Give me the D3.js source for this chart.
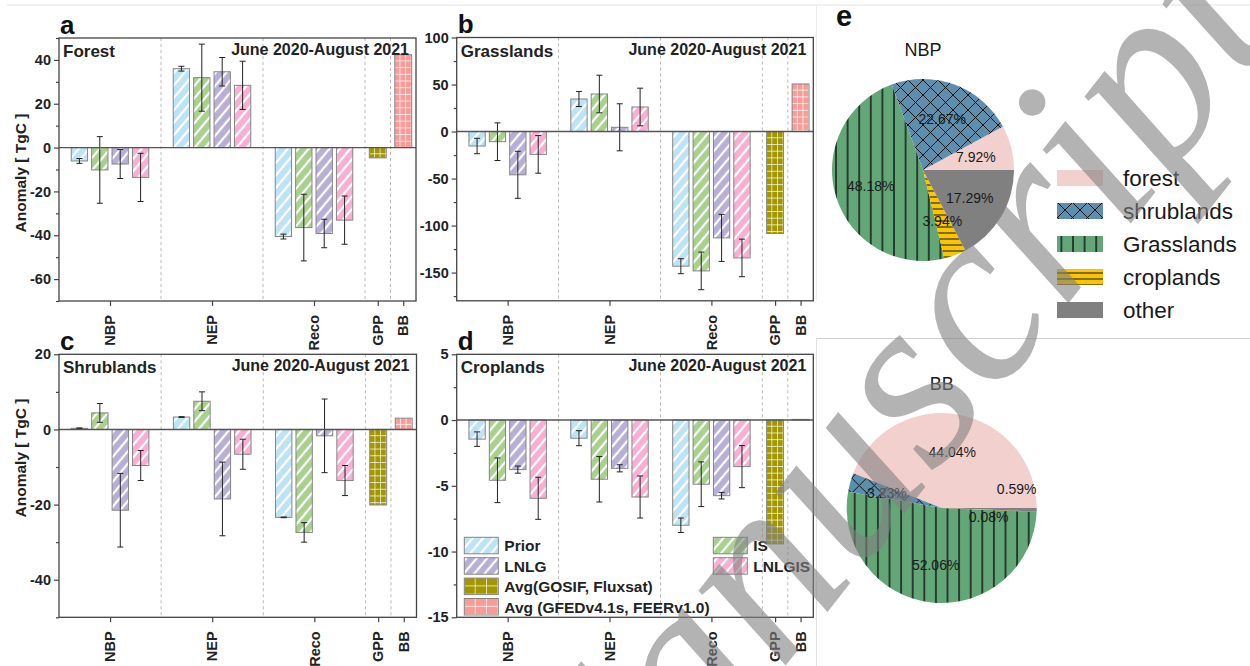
<!DOCTYPE html>
<html>
<head>
<meta charset="utf-8">
<script src="https://cdn.jsdelivr.net/npm/d3@7"></script>
<style>
  body { margin: 0; background: #fff; }
  svg { font-family: "Liberation Sans", Arial, sans-serif; display: block; }
</style>
</head>
<body>
<script>
// ---- data ----
const categories = ['NBP', 'NEP', 'Reco', 'GPP', 'BB']
const series = ['Prior', 'IS', 'LNLG', 'LNLGIS']
const obsNames = ['Avg(GOSIF, Fluxsat)', 'Avg (GFEDv4.1s, FEERv1.0)']
const periodLabel = 'June 2020-August 2021'

// rows: Prior, IS, LNLG, LNLGIS ; cols: NBP, NEP, Reco  (TgC)
const forestMean = [[-6.1, 36.0, -40.6], [-10.2, 31.9, -36.5], [-7.5, 34.6, -39.2], [-13.6, 28.4, -33.1]]
const forestErr = [[1.1, 1.1, 1.1], [15.2, 15.3, 15.2], [6.6, 6.5, 6.5], [11, 11, 11]]
const forestObs = [-4.7, 42.4] // GPP, BB

const grassMean = [[-15.4, 34.6, -143.2], [-10.8, 39.9, -148.2], [-46, 4.5, -113.1], [-24.3, 26.1, -134.4]]
const grassErr = [[8.2, 8, 8], [20, 20, 20], [25, 25, 25], [20, 20, 20]]
const grassObs = [-108.4, 50.6]

const shrubMean = [[0.3, 3.3, -23.4], [4.4, 7.5, -27.4], [-21.5, -18.5, -1.7], [-9.6, -6.6, -13.6]]
const shrubErr = [[0.1, 0.1, 0.1], [2.5, 2.5, 2.6], [9.8, 9.8, 9.8], [4, 4, 4]]
const shrubObs = [-20.1, 3.0]

const cropMean = [[-1.45, -1.38, -8.0], [-4.58, -4.5, -4.88], [-3.77, -3.67, -5.75], [-5.95, -5.85, -3.54]]
const cropErr = [[0.55, 0.57, 0.55], [1.7, 1.73, 1.7], [0.27, 0.27, 0.25], [1.6, 1.6, 1.6]]
const cropObs = [-9.42, 0.05]

// panel e: share of anomaly per land class (%)
const pieClasses = ['forest', 'shrublands', 'Grasslands', 'croplands', 'other']
const nbpShare = [7.92, 22.67, 48.18, 3.94, 17.29]
const bbShare = [44.04, 3.23, 52.06, 0.08, 0.59]

// ---- layout / style ----
const catPos = [1, 5, 9, 11.5, 12.5]
const sepPos = [3, 7, 11, 12]
const barOffset = [-1.2, -0.4, 0.4, 1.2]
const barW = 0.64
const seriesColor = ['#bde3f7', '#a9d18e', '#b8afd7', '#f9aed3']
const obsColor = ['#a39700', '#f99b97']
const pieColor = ['#f2d0ce', '#5b8fad', '#63a677', '#f8c600', '#808080']

const panels = [
  { letter: 'a', title: 'Forest', mean: forestMean, err: forestErr, obs: forestObs,
    box: [59, 38, 357, 263], domain: [-70, 50], major: d3.range(-60, 41, 20), minor: d3.range(-70, 51, 10), yTitle: 173 },
  { letter: 'b', title: 'Grasslands', mean: grassMean, err: grassErr, obs: grassObs,
    box: [456.7, 37.5, 356.6, 263.3], domain: [-180, 100], major: d3.range(-150, 101, 50), minor: d3.range(-175, 101, 25) },
  { letter: 'c', title: 'Shrublands', mean: shrubMean, err: shrubErr, obs: shrubObs,
    box: [59, 354.3, 357.5, 263], domain: [-50, 20], major: d3.range(-40, 21, 20), minor: d3.range(-50, 21, 10), yTitle: 458 },
  { letter: 'd', title: 'Croplands', mean: cropMean, err: cropErr, obs: cropObs,
    box: [456.7, 354.3, 356.6, 263], domain: [-15, 5], major: d3.range(-15, 6, 5), minor: d3.range(-15, 6, 2.5), legend: true }
]

const W = 1250, H = 666
const svg = d3.select('body').append('svg').attr('width', W).attr('height', H)
svg.append('rect').attr('width', W).attr('height', H).attr('fill', '#fff')
const defs = svg.append('defs')

// faint frames of the composed figure
const frame = svg.append('g').attr('fill', 'none')
frame.append('line').attr('x1', 7).attr('x2', W).attr('y1', 5).attr('y2', 5).attr('stroke', '#e6e6e6')
frame.append('line').attr('x1', 816.5).attr('x2', 816.5).attr('y1', 5).attr('y2', 300).attr('stroke', '#ececec')
frame.append('line').attr('x1', 816).attr('x2', W).attr('y1', 338.5).attr('y2', 338.5).attr('stroke', '#cfcfcf')
frame.append('line').attr('x1', 816.5).attr('x2', 816.5).attr('y1', 338).attr('y2', H).attr('stroke', '#e0e0e0')

// diagonal hatch for model series
series.forEach((s, i) => {
  const p = defs.append('pattern').attr('id', 'hatch-' + s)
    .attr('patternUnits', 'userSpaceOnUse').attr('width', 8).attr('height', 8)
    .attr('patternTransform', 'rotate(40)')
  p.append('rect').attr('width', 8).attr('height', 8).attr('fill', seriesColor[i])
  p.append('line').attr('x1', 4).attr('x2', 4).attr('y1', 0).attr('y2', 8)
    .attr('stroke', '#fff').attr('stroke-width', 2.2)
})

// white grid fill anchored at a given origin
function gridPattern(id, color, x0, y0, cw, ch) {
  const p = defs.append('pattern').attr('id', id)
    .attr('patternUnits', 'userSpaceOnUse').attr('x', x0).attr('y', y0)
    .attr('width', cw).attr('height', ch)
  p.append('rect').attr('width', cw).attr('height', ch).attr('fill', color)
  p.append('path').attr('d', `M${cw},0V${ch}M0,${ch}H${cw}`)
    .attr('stroke', '#fff').attr('stroke-width', 1.3).attr('fill', 'none')
  return `url(#${id})`
}

function drawPanel(p) {
  const [left, top, w, h] = p.box
  const g = svg.append('g')
  const x = d3.scaleLinear().domain([-1, 13]).range([left, left + w])
  const y = d3.scaleLinear().domain(p.domain).range([top + h, top])
  const bw = x(barW) - x(0)

  g.selectAll('line.sep').data(sepPos).join('line')
    .attr('x1', d => x(d)).attr('x2', d => x(d))
    .attr('y1', top).attr('y2', top + h)
    .attr('stroke', '#b8b8b8').attr('stroke-dasharray', '3,3')

  const bars = []
  p.mean.forEach((row, si) => row.forEach((v, ci) => bars.push({ s: si, c: ci, v, e: p.err[si][ci] })))

  g.selectAll('rect.model').data(bars).join('rect')
    .attr('x', d => x(catPos[d.c] + barOffset[d.s]) - bw / 2)
    .attr('width', bw)
    .attr('y', d => y(Math.max(0, d.v)))
    .attr('height', d => Math.abs(y(d.v) - y(0)))
    .attr('fill', d => `url(#hatch-${series[d.s]})`)
    .attr('stroke', '#858585').attr('stroke-width', 1)

  // observation-based GPP and BB bars
  p.obs.forEach((v, i) => {
    const bx = x(catPos[3 + i]) - bw / 2 - 0.3
    const by = y(Math.max(0, v))
    const fill = gridPattern(`grid-${p.letter}-${i}`, obsColor[i], bx, by, (bw + 0.6) / 3, 6.7)
    g.append('rect')
      .attr('x', bx).attr('width', bw + 0.6)
      .attr('y', by).attr('height', Math.max(0.8, Math.abs(y(v) - y(0))))
      .attr('fill', fill)
      .attr('stroke', '#858585').attr('stroke-width', 1)
  })

  // error bars
  const eb = g.selectAll('g.err').data(bars).join('g')
    .attr('stroke', '#222').attr('stroke-width', 1)
  eb.append('line')
    .attr('x1', d => x(catPos[d.c] + barOffset[d.s])).attr('x2', d => x(catPos[d.c] + barOffset[d.s]))
    .attr('y1', d => y(d.v + d.e)).attr('y2', d => y(d.v - d.e))
  eb.selectAll('line.cap').data(d => [d.v + d.e, d.v - d.e].map(t => ({ cx: x(catPos[d.c] + barOffset[d.s]), t })))
    .join('line').attr('class', 'cap')
    .attr('x1', d => d.cx - 3).attr('x2', d => d.cx + 3)
    .attr('y1', d => y(d.t)).attr('y2', d => y(d.t))

  // zero line
  g.append('line').attr('x1', left).attr('x2', left + w).attr('y1', y(0)).attr('y2', y(0))
    .attr('stroke', '#555').attr('stroke-width', 1.4)

  // axes
  const styleAxis = a => a.attr('font-family', null).attr('font-size', null)
    .call(s => s.select('.domain').remove())
    .call(s => s.selectAll('line').attr('stroke', '#444').attr('stroke-width', 1.2))
  g.append('g').attr('transform', `translate(${left},0)`)
    .call(d3.axisLeft(y).tickValues(p.minor.filter(v => !p.major.includes(v))).tickSize(3).tickFormat(''))
    .call(styleAxis)
  g.append('g').attr('transform', `translate(${left},0)`)
    .call(d3.axisLeft(y).tickValues(p.major).tickSize(5).tickPadding(3).tickFormat(d => String(d)))
    .call(styleAxis)
    .call(s => s.selectAll('text').attr('font-size', 14.5).attr('font-weight', 'bold').attr('fill', '#222'))
  g.append('g').attr('transform', `translate(0,${top + h})`)
    .call(d3.axisBottom(x).tickValues(catPos).tickSize(5).tickFormat(''))
    .call(styleAxis)

  g.selectAll('text.xlab').data(categories).join('text')
    .attr('transform', (d, i) => `translate(${x(catPos[i])},${top + h + 14}) rotate(-90)`)
    .attr('text-anchor', 'end').attr('dy', '0.36em')
    .attr('font-size', 14.5).attr('font-weight', 'bold').attr('fill', '#222')
    .text(d => d)

  g.append('rect').attr('x', left).attr('y', top).attr('width', w).attr('height', h)
    .attr('fill', 'none').attr('stroke', '#444').attr('stroke-width', 1.3)

  // titles
  g.append('text').attr('x', left + 4).attr('y', top + 19)
    .attr('font-size', 17).attr('font-weight', 'bold').attr('fill', '#222').text(p.title)
  g.append('text').attr('x', left + w - 7).attr('y', top + 17).attr('text-anchor', 'end')
    .attr('font-size', 16).attr('font-weight', 'bold').attr('fill', '#222').text(periodLabel)
  g.append('text').attr('x', left + 1).attr('y', top - 4.5)
    .attr('font-size', 26).attr('font-weight', 'bold').attr('fill', '#111').text(p.letter)

  if (p.yTitle) {
    g.append('text').attr('transform', `translate(20,${p.yTitle}) rotate(-90)`)
      .attr('text-anchor', 'middle').attr('dy', '0.36em')
      .attr('font-size', 15.5).attr('font-weight', 'bold').attr('fill', '#222')
      .text('Anomaly [ TgC ]')
  }

  if (p.legend) {
    const items = series.map((s, i) => ({ label: s, fill: `url(#hatch-${s})`, col: i % 2, row: Math.floor(i / 2) }))
    obsNames.forEach((s, i) => items.push({ label: s, obs: i, col: 0, row: 2 + i }))
    const lg = g.append('g')
    items.forEach(it => {
      const lx = it.col ? left + 256.6 : left + 7.6
      const ly = top + 183 + it.row * 20.4
      const fill = it.obs === undefined ? it.fill : gridPattern(`leg-${it.obs}`, obsColor[it.obs], lx, ly, 34 / 3, 8.25)
      lg.append('rect').attr('x', lx).attr('y', ly).attr('width', 34).attr('height', 16.5)
        .attr('fill', fill).attr('stroke', '#858585').attr('stroke-width', 1)
      lg.append('text').attr('x', lx + 40).attr('y', ly + 14)
        .attr('font-size', 15.5).attr('font-weight', 'bold').attr('fill', '#222').text(it.label)
    })
  }
}

panels.forEach(drawPanel)

// ---- panel e: pies ----
function linePattern(id, color, size, path, sw) {
  const p = defs.append('pattern').attr('id', id)
    .attr('patternUnits', 'userSpaceOnUse').attr('width', size[0]).attr('height', size[1])
  p.append('rect').attr('width', size[0]).attr('height', size[1]).attr('fill', color)
  if (path) p.append('path').attr('d', path).attr('stroke', '#111').attr('stroke-width', sw).attr('fill', 'none')
  return `url(#${id})`
}
const pieFill = [
  pieColor[0],
  linePattern('pf-shrub', pieColor[1], [15, 15], 'M0,0L15,15M15,0L0,15M-1,14L1,16M14,-1L16,1', 1),
  linePattern('pf-grass', pieColor[2], [11.6, 11.6], 'M5.8,0V11.6', 1.4),
  linePattern('pf-crop', pieColor[3], [6, 6], 'M0,3H6', 1),
  pieColor[4]
]

function drawPie(cx, cy, r, shares, title, nudge) {
  const pie = d3.pie().sort(null).startAngle(Math.PI / 2).endAngle(Math.PI / 2 - 2 * Math.PI)
  const arcs = pie(shares)
  const arc = d3.arc().innerRadius(0).outerRadius(r)
  const lab = d3.arc().innerRadius(r * 0.6).outerRadius(r * 0.6)
  const g = svg.append('g').attr('transform', `translate(${cx},${cy})`)
  g.selectAll('path').data(arcs).join('path').attr('d', arc).attr('fill', (d, i) => pieFill[i])
  g.selectAll('text.pct').data(arcs).join('text')
    .attr('transform', (d, i) => {
      const [a, b] = lab.centroid(d)
      return `translate(${a + nudge[i][0]},${b + nudge[i][1]})`
    })
    .attr('text-anchor', 'middle').attr('dy', '0.36em')
    .attr('font-size', 14).attr('fill', '#1a1a1a')
    .text(d => d.data.toFixed(2) + '%')
  g.append('text').attr('y', -r - 29).attr('text-anchor', 'middle').attr('dy', '0.36em')
    .attr('font-size', 18).attr('fill', '#1a1a1a').text(title)
}

drawPie(923, 170, 91, nbpShare, 'NBP', [[0, 0], [0, 0], [0, 0], [0, 0], [0, 0]])
drawPie(941.7, 508, 95, bbShare, 'BB', [[0, 0], [0, 0], [0, 0], [-10, 6.5], [18, -20]])

svg.append('text').attr('x', 836).attr('y', 26)
  .attr('font-size', 29).attr('font-weight', 'bold').attr('fill', '#111').text('e')

const pieLegend = svg.append('g')
pieClasses.forEach((c, i) => {
  const ly = 178 + i * 33
  pieLegend.append('rect').attr('x', 1057).attr('y', ly - 8).attr('width', 46).attr('height', 16)
    .attr('fill', pieFill[i])
  pieLegend.append('text').attr('x', 1123).attr('y', ly + 8)
    .attr('font-size', 22.5).attr('fill', '#1a1a1a').text(c)
})

// ---- manuscript watermark ----
svg.append('text')
  .attr('transform', 'translate(575,935) rotate(-52)')
  .attr('font-family', '"Liberation Serif", "DejaVu Serif", serif')
  .attr('font-style', 'italic')
  .attr('font-size', 250)
  .attr('fill', '#808080').attr('fill-opacity', 0.6)
  .text('Manuscript')
</script>
</body>
</html>
